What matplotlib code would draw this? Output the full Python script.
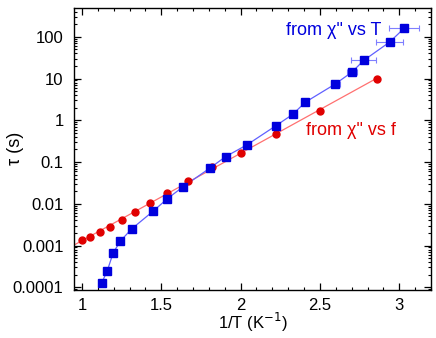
import numpy as np
import matplotlib
matplotlib.use("Agg")
import matplotlib.pyplot as plt
from matplotlib.ticker import LogLocator, MultipleLocator, FixedLocator, NullFormatter

plt.rcParams['font.family'] = ['Liberation Sans', 'DejaVu Sans']

# from chi'' vs f (red circles)
x_f = [1.000, 1.053, 1.111, 1.176, 1.250, 1.333, 1.429, 1.538, 1.667, 1.818, 2.000, 2.222, 2.500, 2.857]
tau_f = [0.00137, 0.00162, 0.00216, 0.00285, 0.0041, 0.0063, 0.0103, 0.0182, 0.0347, 0.0776, 0.168, 0.478, 1.70, 9.6]

# from chi'' vs T (blue squares)
x_T = [1.124, 1.159, 1.197, 1.243, 1.314, 1.451, 1.539, 1.639, 1.805, 1.906, 2.042, 2.220, 2.329, 2.407, 2.596, 2.702, 2.776, 2.939, 3.030]
tau_T = [1.26e-4, 2.44e-4, 6.7e-4, 1.29e-3, 2.51e-3, 6.76e-3, 0.0133, 0.0258, 0.071, 0.135, 0.261, 0.731, 1.39, 2.70, 7.38, 14.3, 27.2, 74.7, 159]
xerr_T = [0.012, 0.012, 0.012, 0.010, 0.010, 0.010, 0.010, 0.010, 0.010, 0.010, 0.012, 0.015, 0.018, 0.020, 0.028, 0.031, 0.078, 0.083, 0.092]

xlim = (0.95, 3.2)
ylim = (8.6e-5, 490)

fig = plt.figure(figsize=(4.36, 3.38), dpi=100)
ax = fig.add_axes([74/436, 1 - 290/338, (431 - 74)/436, (290 - 8)/338])

# red fit line
p = np.polyfit(x_f, np.log10(tau_f), 1)
xx = np.array([xlim[0], max(x_f)])
ax.plot(xx, 10**np.polyval(p, xx), color='#ff7070', lw=0.9, zorder=2)
ax.plot(x_f, tau_f, 'o', color='#e00000', ms=5, mec='#e00000', zorder=4)

# blue
ax.errorbar(x_T, tau_T, xerr=xerr_T, fmt='none', ecolor='#7f7fff', elinewidth=0.8, capsize=2.5, capthick=0.8, zorder=3)
ax.plot(x_T, tau_T, '-', color='#6060ff', lw=0.9, zorder=3)
ax.plot(x_T, tau_T, 's', color='#0000dd', ms=5.3, mec='#0000dd', zorder=5)

ax.set_yscale('log')
ax.set_xlim(*xlim)
ax.set_ylim(*ylim)

ax.xaxis.set_major_locator(MultipleLocator(0.5))
ax.xaxis.set_minor_locator(MultipleLocator(0.1))
ax.yaxis.set_major_locator(FixedLocator([1e-4, 1e-3, 1e-2, 1e-1, 1, 10, 100]))
ax.yaxis.set_minor_locator(LogLocator(base=10, subs=np.arange(2, 10), numticks=20))
ax.yaxis.set_minor_formatter(NullFormatter())
ax.set_xticks([1, 1.5, 2, 2.5, 3])
ax.set_xticklabels(['1', '1.5', '2', '2.5', '3'])
ax.set_yticklabels(['0.0001', '0.001', '0.01', '0.1', '1', '10', '100'])

ax.tick_params(which='both', direction='in', top=True, right=True, labelsize=12, colors='black')
ax.tick_params(axis='y', which='major', pad=7.5)
ax.tick_params(axis='x', which='major', pad=5.5)
ax.tick_params(which='major', length=5, width=0.9)
ax.tick_params(which='minor', length=2.5, width=0.8)
for s in ax.spines.values():
    s.set_linewidth(1.0)

ax.set_xlabel('1/T (K$^{-1}$)', fontsize=12, labelpad=-1)
fig.text(15/436, 1 - 148/338, 'τ (s)', fontsize=13, rotation=90, ha='center', va='center')

ax.text(2.585, 145, 'from χ" vs T', color='#0000dd', fontsize=13, ha='center', va='center')
ax.text(2.698, 0.555, 'from χ" vs f', color='#e00000', fontsize=13, ha='center', va='center')

fig.savefig('out.png', dpi=100)
